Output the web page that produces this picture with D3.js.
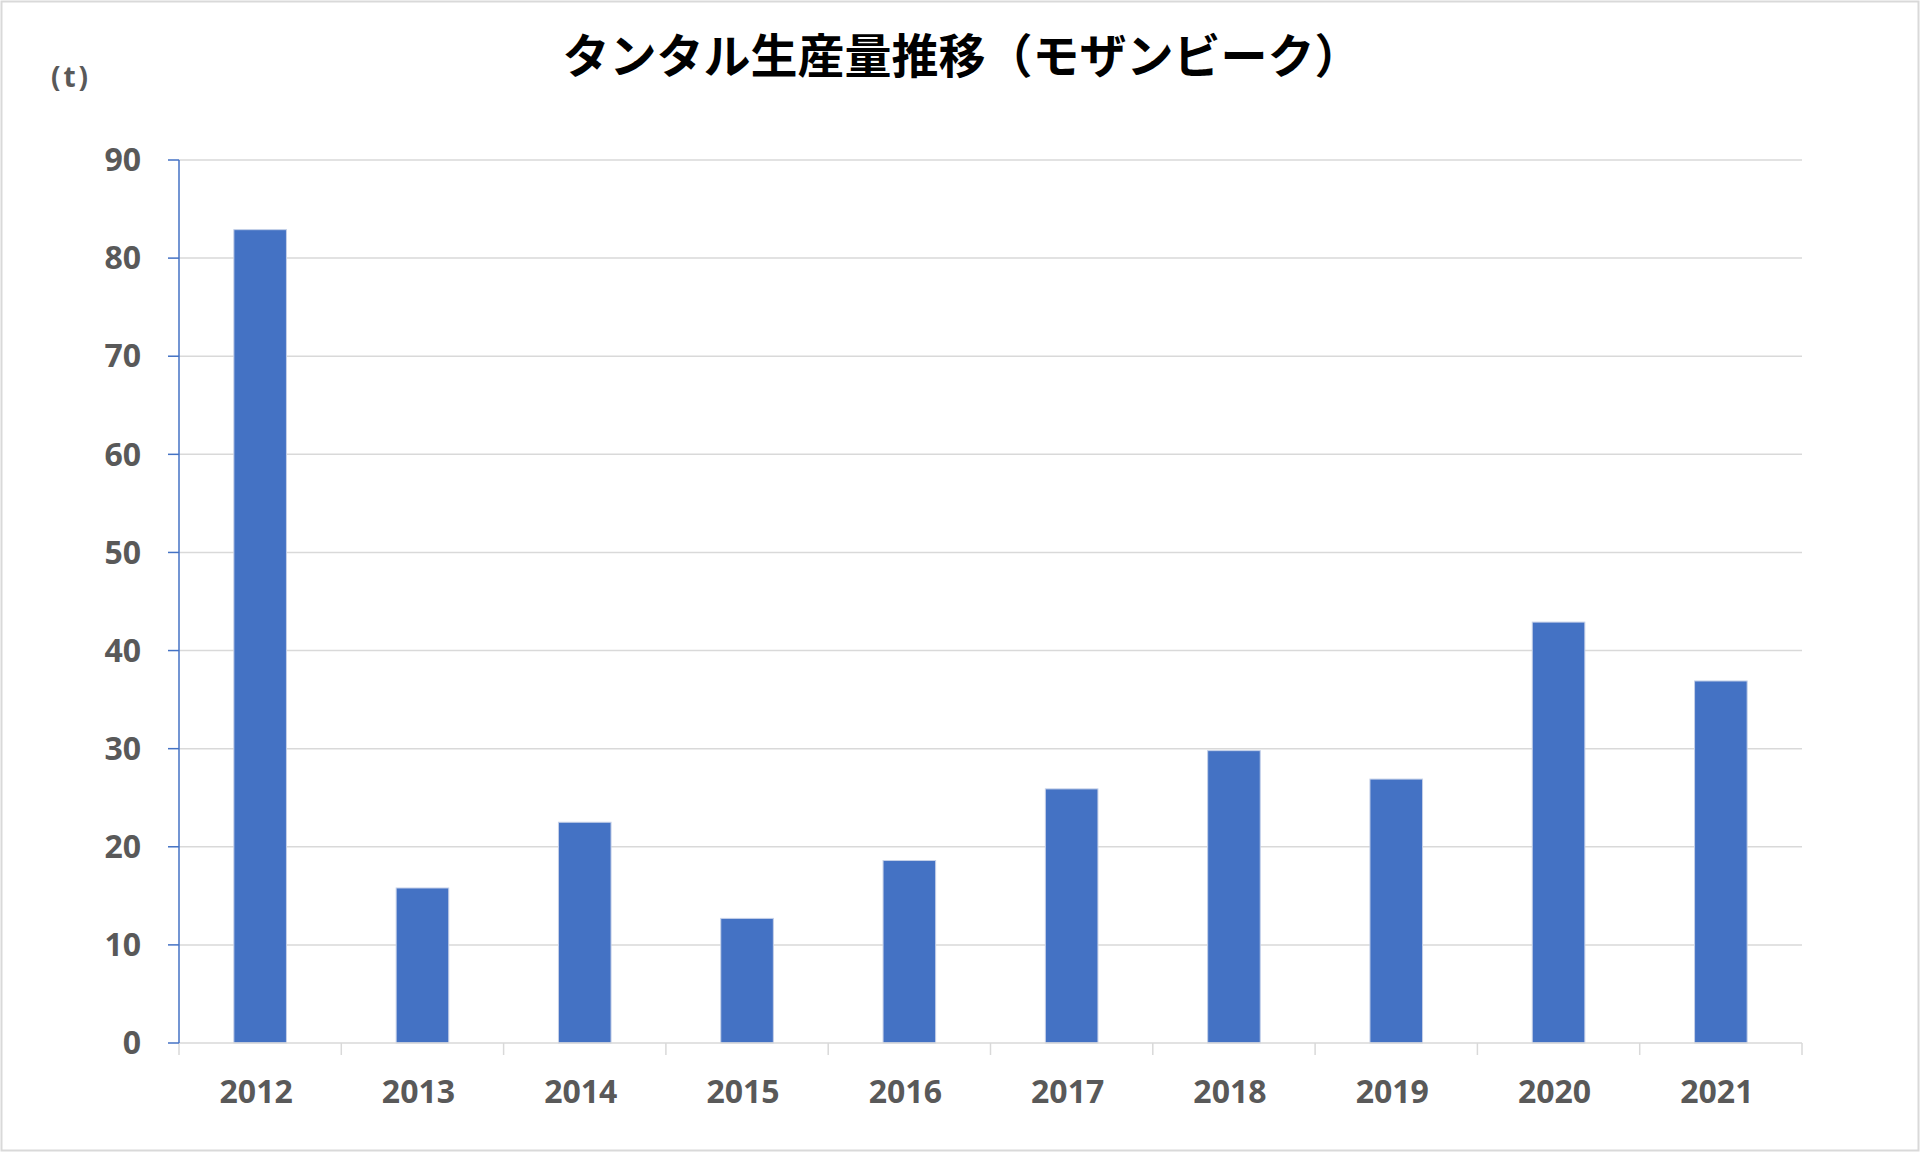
<!DOCTYPE html>
<meta charset="utf-8">
<style>
    body { margin: 0; background: #fff; }
    svg text { font-family: "Noto Sans", "Noto Sans CJK JP", sans-serif; }
    .tick-label { fill: #595959; font-weight: bold; font-size: 32px; }
</style>
<svg width="1920" height="1152"></svg>
<script src="https://d3js.org/d3.v7.min.js"></script>
<script>

    var years = ["2012", "2013", "2014", "2015", "2016", "2017", "2018", "2019", "2020", "2021"];
    var production = [82.9, 15.8, 22.5, 12.7, 18.6, 25.9, 29.8, 26.9, 42.9, 36.9];
    var yTicks = [0, 10, 20, 30, 40, 50, 60, 70, 80, 90];

    var svg = d3.select("svg"),
        width = +svg.attr("width"),
        height = +svg.attr("height");

    var plotL = 179, plotR = 1802, plotT = 160, plotB = 1043;

    // frame
    svg.append("rect")
        .attr("x", 1.5).attr("y", 1.5)
        .attr("width", width - 3).attr("height", height - 3)
        .attr("fill", "#fff")
        .attr("stroke", "#d9d9d9")
        .attr("stroke-width", 2);

    var x = d3.scaleBand()
        .domain(years)
        .range([plotL, plotR])
        .paddingInner(0.676)
        .paddingOuter(0.338);

    var xb = d3.scaleBand().domain(years).range([plotL, plotR]);

    var y = d3.scaleLinear()
        .domain([0, 90])
        .range([plotB, plotT]);

    // gridlines
    svg.append("g")
        .selectAll("line")
        .data(yTicks.slice(1))
        .enter().append("line")
        .attr("x1", plotL).attr("x2", plotR)
        .attr("y1", function(d) { return y(d); })
        .attr("y2", function(d) { return y(d); })
        .attr("stroke", "#d9d9d9")
        .attr("stroke-width", 1.5);

    // bars
    svg.append("g")
        .selectAll("rect")
        .data(production)
        .enter().append("rect")
        .attr("x", function(d, i) { return x(years[i]); })
        .attr("y", function(d) { return y(d); })
        .attr("width", x.bandwidth())
        .attr("height", function(d) { return y(0) - y(d); })
        .attr("fill", "#4472c4")
        .attr("stroke", "#c5d0e8")
        .attr("stroke-width", 1);

    // x axis line + ticks
    var xAxis = svg.append("g");
    xAxis.append("line")
        .attr("x1", plotL).attr("x2", plotR)
        .attr("y1", plotB).attr("y2", plotB)
        .attr("stroke", "#d9d9d9").attr("stroke-width", 1.5);
    xAxis.selectAll("line.tk")
        .data(years.concat(["end"]))
        .enter().append("line")
        .attr("class", "tk")
        .attr("x1", function(d, i) { return i < years.length ? xb(d) : plotR; })
        .attr("x2", function(d, i) { return i < years.length ? xb(d) : plotR; })
        .attr("y1", plotB).attr("y2", plotB + 12)
        .attr("stroke", "#d9d9d9").attr("stroke-width", 1.5);
    xAxis.selectAll("text")
        .data(years)
        .enter().append("text")
        .attr("class", "tick-label")
        .attr("x", function(d) { return xb(d) + xb.bandwidth() / 2 - 4; })
        .attr("y", 1094)
        .attr("text-anchor", "middle")
        .attr("dominant-baseline", "middle")
        .text(function(d) { return d; });

    // y axis
    var yAxis = svg.append("g");
    yAxis.append("line")
        .attr("x1", plotL).attr("x2", plotL)
        .attr("y1", plotT).attr("y2", plotB)
        .attr("stroke", "#4472c4").attr("stroke-width", 1.5);
    yAxis.selectAll("line.tk")
        .data(yTicks)
        .enter().append("line")
        .attr("class", "tk")
        .attr("x1", plotL - 11).attr("x2", plotL)
        .attr("y1", function(d) { return y(d); })
        .attr("y2", function(d) { return y(d); })
        .attr("stroke", "#4472c4").attr("stroke-width", 1.5);
    yAxis.selectAll("text")
        .data(yTicks)
        .enter().append("text")
        .attr("class", "tick-label")
        .attr("x", 141)
        .attr("y", function(d) { return y(d) + 2.5; })
        .attr("text-anchor", "end")
        .attr("dominant-baseline", "middle")
        .text(function(d) { return d; });

    // unit
    svg.append("text")
        .attr("class", "tick-label")
        .attr("x", 71).attr("y", 79)
        .attr("text-anchor", "middle")
        .attr("dominant-baseline", "middle")
        .style("font-size", "28px")
        .style("letter-spacing", "3px")
        .text("(t)");

    // title
    svg.append("text")
        .attr("x", 962).attr("y", 60)
        .attr("text-anchor", "middle")
        .attr("dominant-baseline", "middle")
        .style("font-family", "'Noto Sans CJK JP', sans-serif")
        .style("font-weight", "bold")
        .style("font-size", "47px")
        .attr("fill", "#000")
        .text("タンタル生産量推移（モザンビーク）");

</script>
